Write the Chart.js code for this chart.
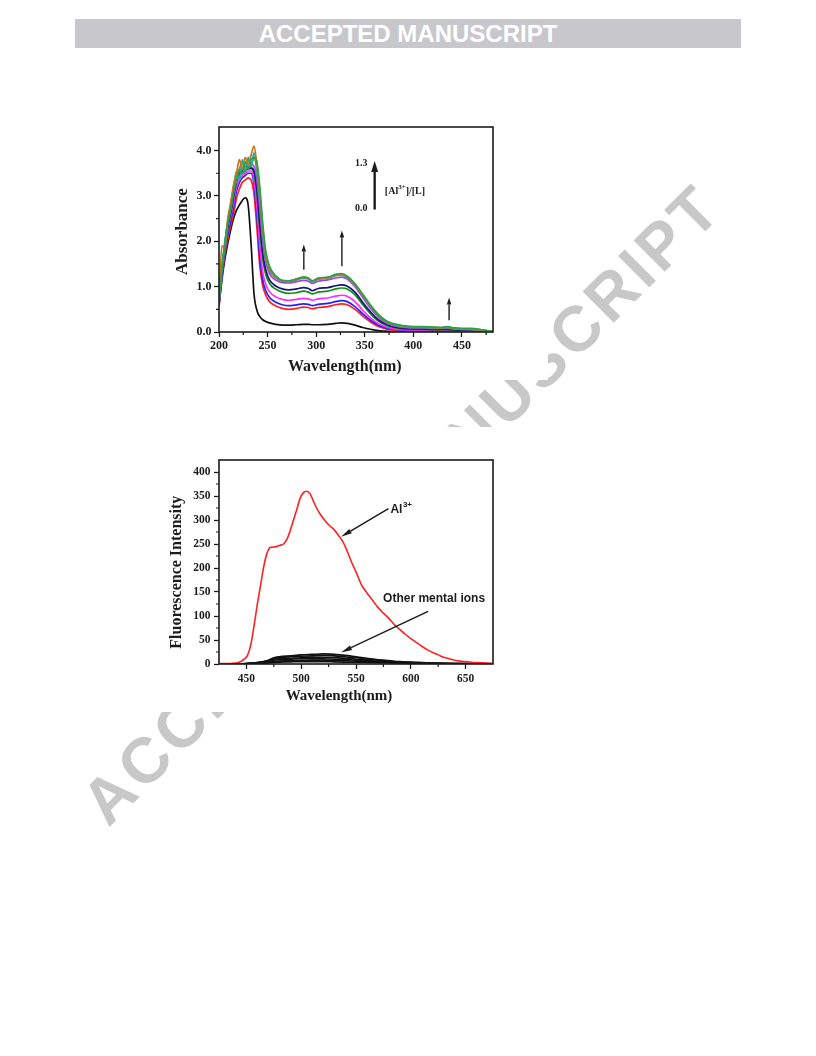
<!DOCTYPE html>
<html>
<head>
<meta charset="utf-8">
<script src="https://cdn.jsdelivr.net/npm/chart.js@4.4.0/dist/chart.umd.min.js"></script>
<style>
  html, body { margin: 0; padding: 0; background: #fff; }
  body { width: 816px; height: 1056px; position: relative; overflow: hidden; }
  .header { position: absolute; left: 75px; top: 19px; width: 666px; height: 29px; background: #c8c8cc; color: #fff;
            font: bold 24px "Liberation Sans", Arial, sans-serif; text-align: center; line-height: 30px; z-index: 3; }
  .watermark { position: absolute; left: 70px; top: 790px; transform-origin: 0 0; transform: rotate(-45deg);
               font: bold 64px/64px "Liberation Sans", Arial, sans-serif; letter-spacing: 4px; color: #c8c8c8;
               white-space: nowrap; z-index: 0; }
  .panel { position: absolute; background: #fff; z-index: 1; }
  #p1 { left: 148px; top: 95px; width: 400px; height: 285px; }
  #p2 { left: 147px; top: 427px; width: 401px; height: 285px; }
</style>
</head>
<body>
<div class="header">ACCEPTED MANUSCRIPT</div>
<div class="watermark">ACCEPTED MANUSCRIPT</div>
<div class="panel" id="p1"><canvas id="c1" width="400" height="285"></canvas></div>
<div class="panel" id="p2"><canvas id="c2" width="401" height="285"></canvas></div>
<script>
// --- UV-vis titration (absorbance) ---
const absWavelength = [200,203,206,209,212,215,218,221,224,227,230,233,236,239,242,245,248,252,258,265,
  272,280,287,292,296,302,312,320,326,332,340,348,356,364,372,380,390,400,410,420,428,435,442,450,460,470,482];
const absRatio0 = [0.58,1.15,1.6,1.95,2.25,2.5,2.68,2.8,2.9,2.96,2.8,1.95,0.85,0.48,0.34,0.27,0.23,0.2,0.17,0.15,
  0.15,0.16,0.17,0.17,0.16,0.16,0.17,0.19,0.2,0.19,0.15,0.1,0.06,0.03,0.02,0.01,0.01,0,0,0,0,0,0,0,0,0,0];
const absRatio1 = [0.58,1.2,1.7,2.05,2.35,2.6,2.95,3.15,3.3,3.35,3.4,3.35,3.05,2.3,1.45,1.02,0.82,0.67,0.58,0.52,
  0.5,0.52,0.55,0.54,0.51,0.54,0.56,0.6,0.62,0.6,0.5,0.35,0.22,0.12,0.07,0.04,0.03,0.02,0.02,0.01,0.01,0.01,0.01,0.01,0.01,0,0];
const absRatio2 = [0.6,1.25,1.75,2.15,2.45,2.75,3.1,3.3,3.4,3.45,3.5,3.5,3.25,2.55,1.65,1.15,0.92,0.76,0.66,0.6,
  0.58,0.6,0.62,0.61,0.58,0.61,0.63,0.67,0.69,0.67,0.56,0.4,0.26,0.15,0.09,0.06,0.04,0.03,0.03,0.02,0.02,0.02,0.02,0.01,0.01,0.01,0];
const absRatio3 = [0.62,1.3,1.8,2.25,2.55,2.85,3.2,3.35,3.45,3.5,3.55,3.55,3.35,2.75,1.9,1.32,1.06,0.89,0.78,0.72,
  0.7,0.72,0.74,0.73,0.7,0.73,0.75,0.79,0.81,0.79,0.67,0.48,0.31,0.18,0.11,0.07,0.05,0.04,0.04,0.03,0.03,0.03,0.02,0.02,0.02,0.01,0];
const absRatio4 = [0.64,1.3,1.85,2.3,2.6,2.95,3.3,3.45,3.5,3.55,3.6,3.6,3.5,3.05,2.25,1.62,1.28,1.07,0.95,0.88,
  0.85,0.87,0.9,0.88,0.84,0.88,0.9,0.95,0.97,0.95,0.82,0.6,0.4,0.24,0.15,0.1,0.07,0.06,0.06,0.05,0.05,0.05,0.04,0.03,0.03,0.02,0];
const absRatio5 = [0.65,1.35,1.9,2.35,2.65,3.0,3.35,3.5,3.55,3.6,3.6,3.62,3.55,3.15,2.4,1.75,1.38,1.15,1.02,0.95,
  0.93,0.95,0.98,0.96,0.91,0.96,0.98,1.02,1.04,1.01,0.88,0.65,0.44,0.27,0.17,0.11,0.08,0.07,0.07,0.06,0.06,0.06,0.05,0.04,0.04,0.02,0];
const absRatio6 = [0.66,1.35,1.9,2.4,2.7,3.05,3.35,3.55,3.6,3.65,3.65,3.7,3.65,3.35,2.7,2.0,1.55,1.28,1.15,1.09,
  1.08,1.11,1.14,1.12,1.07,1.12,1.15,1.19,1.21,1.17,1.0,0.76,0.52,0.33,0.2,0.14,0.1,0.09,0.09,0.08,0.08,0.08,0.07,0.06,0.05,0.03,0.01];
const absRatio7 = [0.68,1.45,1.95,2.45,2.75,3.15,3.45,3.6,3.75,3.55,3.8,3.65,3.85,3.55,2.95,2.2,1.65,1.35,1.2,1.12,
  1.11,1.15,1.19,1.17,1.11,1.16,1.19,1.24,1.26,1.2,1.03,0.8,0.56,0.36,0.22,0.16,0.12,0.1,0.1,0.09,0.09,0.1,0.07,0.06,0.06,0.04,0.01];
const absRatio8 = [0.7,1.4,2.0,2.4,2.8,3.2,3.55,3.35,3.8,3.55,3.85,3.65,3.95,3.6,3.0,2.25,1.7,1.38,1.22,1.13,
  1.12,1.16,1.2,1.18,1.12,1.17,1.2,1.25,1.27,1.21,1.04,0.81,0.57,0.37,0.23,0.16,0.12,0.1,0.1,0.09,0.09,0.1,0.08,0.07,0.06,0.04,0.01];
const absRatio9 = [0.72,1.9,1.85,2.5,2.85,3.25,3.5,3.8,3.6,3.85,3.7,3.9,4.1,3.7,3.1,2.3,1.75,1.4,1.23,1.13,
  1.12,1.16,1.21,1.18,1.12,1.18,1.2,1.26,1.28,1.22,1.05,0.82,0.58,0.38,0.24,0.17,0.13,0.11,0.11,0.1,0.09,0.11,0.08,0.07,0.07,0.04,0.01];
const absRatio10 = [0.7,1.4,1.9,2.4,2.7,3.1,3.35,3.55,3.5,3.75,3.6,3.8,3.85,3.75,3.2,2.4,1.8,1.45,1.25,1.14,
  1.13,1.17,1.21,1.19,1.13,1.19,1.21,1.27,1.29,1.23,1.06,0.83,0.59,0.39,0.25,0.18,0.14,0.12,0.12,0.11,0.1,0.12,0.09,0.08,0.08,0.05,0.01];
const absXTicks = [200, 250, 300, 350, 400, 450];
const absXMinor = [225, 275, 325, 375, 425, 475];
const absYTicks = [0, 1, 2, 3, 4];
const absYMinor = [0.5, 1.5, 2.5, 3.5];

// --- fluorescence ---
const flWavelength = [425,435,440,444,448,451,454,457,460,463,466,469,472,476,480,484,487,490,493,496,
  499,502,505,508,511,514,518,522,526,530,534,538,542,546,550,555,560,565,570,575,580,585,590,595,600,605,610,615,620,625,
  630,635,640,645,650,660,670,675];
const flAl = [1,1,2,4,10,18,40,80,125,165,205,232,243,244,247,250,260,278,300,322,
  345,357,360,355,340,325,310,298,288,280,268,255,235,212,192,165,148,133,118,106,95,82,72,62,53,45,37,30,24,19,
  14,11,8,6,5,3,2,1];
const flOtherWavelength = [425,440,450,460,470,475,480,490,500,510,520,530,540,550,560,570,580,590,600,620,640,660,675];
const flOther1 = [0,0,1,3,8,13,15,17,19,20,21,20,18,15,12,9,7,5,4,2,1,0.5,0];
const flOther2 = [0,0,1,3,7,12,13,15,16,17,18,17,15,13,10,8,6,4,3,2,1,0.5,0];
const flOther3 = [0,0,1,2,6,10,11,12,13,14,14,13,12,10,8,6,5,4,3,1.5,1,0.5,0];
const flOther4 = [0,0,0.5,2,5,8,9,10,11,11,11,10,9,8,6,5,4,3,2,1,0.5,0.3,0];
const flOther5 = [0,0,0.5,1.5,3,5,6,7,7.5,8,8,7.5,7,6,5,4,3,2,1.5,1,0.5,0.3,0];
const flOther6 = [0,0,0.3,1,2,3,4,4.5,5,5,5,4.5,4,3.5,3,2.5,2,1.5,1,0.5,0.3,0.2,0];
const flXTicks = [450, 500, 550, 600, 650];
const flXMinor = [475, 525, 575, 625];
const flYTicks = [0, 50, 100, 150, 200, 250, 300, 350, 400];
const flYMinor = [25, 75, 125, 175, 225, 275, 325, 375];

const serif = '"Liberation Serif", "Times New Roman", serif';
const sans = '"Liberation Sans", Arial, sans-serif';
const ink = '#1c1c1c';

const pts = (xs, ys) => xs.map((x, i) => ({ x, y: ys[i] }));

// first dataset is painted on top in Chart.js
const absSeries = [
  [absRatio10, '#2f9f48'], [absRatio9, '#c87818'], [absRatio8, '#20a8b8'], [absRatio7, '#8a8a10'],
  [absRatio6, '#9a40ff'], [absRatio5, '#141478'], [absRatio4, '#109010'], [absRatio3, '#ff2cff'],
  [absRatio2, '#2020ff'], [absRatio1, '#ff1f1f'], [absRatio0, '#111111']
];

function drawFrame(chart) {
  const { ctx, chartArea: a } = chart;
  ctx.save();
  ctx.strokeStyle = ink;
  ctx.lineWidth = 1.6;
  ctx.strokeRect(a.left, a.top, a.right - a.left, a.bottom - a.top);
  ctx.restore();
}

function drawMinor(chart, xs, ys) {
  const { ctx, chartArea: a, scales } = chart;
  ctx.save();
  ctx.strokeStyle = ink;
  ctx.lineWidth = 1.2;
  ctx.beginPath();
  xs.forEach(v => { const p = scales.x.getPixelForValue(v); ctx.moveTo(p, a.bottom); ctx.lineTo(p, a.bottom + 3); });
  ys.forEach(v => { const p = scales.y.getPixelForValue(v); ctx.moveTo(a.left, p); ctx.lineTo(a.left - 3, p); });
  ctx.stroke();
  ctx.restore();
}

function arrow(ctx, x0, y0, x1, y1, headLen, headW, lw) {
  const ang = Math.atan2(y1 - y0, x1 - x0);
  const bx = x1 - headLen * Math.cos(ang), by = y1 - headLen * Math.sin(ang);
  ctx.lineWidth = lw;
  ctx.beginPath(); ctx.moveTo(x0, y0); ctx.lineTo(bx, by); ctx.stroke();
  const nx = -Math.sin(ang) * headW / 2, ny = Math.cos(ang) * headW / 2;
  ctx.beginPath(); ctx.moveTo(x1, y1); ctx.lineTo(bx + nx, by + ny); ctx.lineTo(bx - nx, by - ny); ctx.closePath(); ctx.fill();
}

function axisTitles(chart, xText, xFrac, xDrop, xSize, yText, yShift, yFrac, ySize) {
  const { ctx, chartArea: a } = chart;
  ctx.save();
  ctx.fillStyle = ink;
  ctx.textAlign = 'center';
  ctx.textBaseline = 'middle';
  ctx.font = `bold ${xSize}px ${serif}`;
  ctx.fillText(xText, a.left + xFrac * (a.right - a.left), a.bottom + xDrop);
  ctx.translate(a.left - yShift, a.top + yFrac * (a.bottom - a.top));
  ctx.rotate(-Math.PI / 2);
  ctx.font = `bold ${ySize}px ${serif}`;
  ctx.fillText(yText, 0, 0);
  ctx.restore();
}

const absExtras = {
  id: 'absExtras',
  afterDraw(chart) {
    const { ctx, scales: { x, y } } = chart;
    drawFrame(chart);
    drawMinor(chart, absXMinor, absYMinor);
    axisTitles(chart, 'Wavelength(nm)', 0.459, 34.4, 16, 'Absorbance', 36, 0.51, 17);
    ctx.save();
    ctx.strokeStyle = ink; ctx.fillStyle = ink;
    // arrows marking the growing bands
    [[287.3, 1.37, 1.93], [326.5, 1.45, 2.24], [436.8, 0.26, 0.76]].forEach(([w, a0, a1]) => {
      const px = x.getPixelForValue(w);
      arrow(ctx, px, y.getPixelForValue(a0), px, y.getPixelForValue(a1), 7, 4.5, 1.4);
    });
    // ratio key
    const kx = x.getPixelForValue(360.2);
    arrow(ctx, kx, y.getPixelForValue(2.70), kx, y.getPixelForValue(3.77), 11, 7, 2.4);
    ctx.font = `bold 10px ${serif}`;
    ctx.textAlign = 'right'; ctx.textBaseline = 'middle';
    ctx.fillText('1.3', x.getPixelForValue(352.8), y.getPixelForValue(3.72));
    ctx.fillText('0.0', x.getPixelForValue(352.8), y.getPixelForValue(2.72));
    ctx.textAlign = 'left';
    let tx = x.getPixelForValue(370.7);
    const ty = y.getPixelForValue(3.11);
    ctx.font = `bold 10px ${serif}`;
    ctx.fillText('[Al', tx, ty); tx += ctx.measureText('[Al').width;
    ctx.font = `bold 7px ${serif}`;
    ctx.fillText('3+', tx, ty - 4); tx += ctx.measureText('3+').width;
    ctx.font = `bold 10px ${serif}`;
    ctx.fillText(']/[L]', tx, ty);
    ctx.restore();
  }
};

const flExtras = {
  id: 'flExtras',
  afterDraw(chart) {
    const { ctx, scales: { x, y } } = chart;
    drawFrame(chart);
    drawMinor(chart, flXMinor, flYMinor);
    axisTitles(chart, 'Wavelength(nm)', 0.438, 32.4, 15, 'Fluorescence Intensity', 42.6, 0.55, 16);
    ctx.save();
    ctx.strokeStyle = ink; ctx.fillStyle = ink;
    arrow(ctx, x.getPixelForValue(579.6), y.getPixelForValue(323.5), x.getPixelForValue(536.4), y.getPixelForValue(265), 11, 5, 1.5);
    arrow(ctx, x.getPixelForValue(615.8), y.getPixelForValue(109.6), x.getPixelForValue(536.4), y.getPixelForValue(24.2), 11, 5, 1.5);
    ctx.textAlign = 'left'; ctx.textBaseline = 'middle';
    let tx = x.getPixelForValue(581.4);
    const ty = y.getPixelForValue(321.5);
    ctx.font = `bold 12px ${sans}`;
    ctx.fillText('Al', tx, ty); tx += ctx.measureText('Al').width + 0.5;
    ctx.font = `bold 8px ${sans}`;
    ctx.fillText('3+', tx, ty - 5);
    ctx.font = `bold 12px ${sans}`;
    ctx.fillText('Other mental ions', x.getPixelForValue(574.7), y.getPixelForValue(135.4));
    ctx.restore();
  }
};

function axisOpts(min, max, ticks, fmt, size, pad, fit, horizontal) {
  return {
    type: 'linear', min, max,
    afterBuildTicks: s => { s.ticks = ticks.map(v => ({ value: v })); },
    afterFit: s => { if (horizontal) s.height = fit; else s.width = fit; },
    grid: { drawOnChartArea: false, drawTicks: true, tickLength: 5, tickColor: ink, tickWidth: 1.3 },
    border: { display: false },
    ticks: { font: { family: serif, weight: 'bold', size }, color: ink, padding: pad,
             maxRotation: 0, autoSkip: false, callback: fmt }
  };
}

new Chart(document.getElementById('c1'), {
  type: 'line',
  data: {
    datasets: absSeries.map(([vals, color]) => ({
      data: pts(absWavelength, vals), borderColor: color, borderWidth: 1.7,
      pointRadius: 0, cubicInterpolationMode: 'monotone', fill: false
    }))
  },
  options: {
    responsive: false, animation: false,
    layout: { padding: { left: 0, right: 55, top: 32, bottom: 0 } },
    plugins: { legend: { display: false }, tooltip: { enabled: false } },
    scales: {
      x: axisOpts(200, 482, absXTicks, v => String(v), 12, 1.5, 48, true),
      y: axisOpts(0, 4.52, absYTicks, v => Number(v).toFixed(1), 12, 2.5, 71, false)
    }
  },
  plugins: [absExtras]
});

new Chart(document.getElementById('c2'), {
  type: 'line',
  data: {
    datasets: [
      { data: pts(flWavelength, flAl), borderColor: '#ff2020', borderWidth: 1.6 },
      ...[flOther1, flOther2, flOther3, flOther4, flOther5, flOther6].map(vals => ({
        data: pts(flOtherWavelength, vals), borderColor: '#111111', borderWidth: 1.6
      }))
    ].map(d => Object.assign(d, { pointRadius: 0, cubicInterpolationMode: 'monotone', fill: false }))
  },
  options: {
    responsive: false, animation: false,
    layout: { padding: { left: 0, right: 55, top: 33, bottom: 0 } },
    plugins: { legend: { display: false }, tooltip: { enabled: false } },
    scales: {
      x: axisOpts(425, 675, flXTicks, v => String(v), 11.5, 3, 48, true),
      y: axisOpts(0, 425, flYTicks, v => String(v), 11.5, 3.5, 72, false)
    }
  },
  plugins: [flExtras]
});
</script>
</body>
</html>
